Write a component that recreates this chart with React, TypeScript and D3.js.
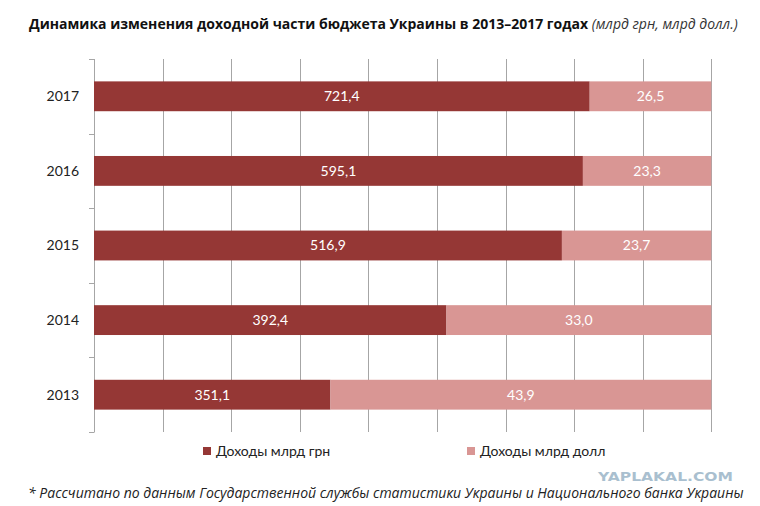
import { useEffect, useRef } from "react";
import * as d3 from "d3";

// Years, bottom to top as in the chart
const years = ["2013", "2014", "2015", "2016", "2017"];
// Revenue, bn UAH (dark segment labels)
const uahValues = [351.1, 392.4, 516.9, 595.1, 721.4];
// Revenue, bn USD (light segment labels)
const usdValues = [43.9, 33.0, 23.7, 23.3, 26.5];
// Share of the bar taken by the dark segment
const uahShare = [0.383, 0.571, 0.758, 0.792, 0.803];
const seriesNames = ["Доходы млрд грн", "Доходы млрд долл"];
const gridSteps = 9;

const W = 760;
const H = 506;
const M = { left: 94, right: 48.7, top: 59, bottom: 74 };
const COLORS = ["#953735", "#d99694"];
const chartFont = "Lato, 'Open Sans', sans-serif";

const fmt = (v: number) => v.toFixed(1).replace(".", ",");

export default function App() {
  const svgRef = useRef<SVGSVGElement>(null);

  useEffect(() => {
    if (!svgRef.current) return;
    const svg = d3.select(svgRef.current);
    svg.selectAll("*").remove();

    const x = d3.scaleLinear().domain([0, 1]).range([M.left, W - M.right]);
    const y = d3
      .scaleBand<string>()
      .domain([...years].reverse())
      .range([M.top, H - M.bottom])
      .paddingInner(0.6)
      .paddingOuter(0.3);

    // Title
    const title = svg
      .append("text")
      .attr("x", 29)
      .attr("y", 29)
      .attr("font-family", "'Open Sans', sans-serif")
      .attr("font-size", 14)
      .attr("fill", "#111");
    title.append("tspan").attr("font-weight", "bold").text("Динамика изменения доходной части бюджета Украины в 2013–2017 годах");
    title
      .append("tspan")
      .attr("font-style", "italic")
      .attr("fill", "#333")
      .text(" (млрд грн, млрд долл.)");

    // Vertical gridlines
    const ticks = d3.range(gridSteps + 1).map((i) => i / gridSteps);
    svg
      .append("g")
      .selectAll("line")
      .data(ticks.slice(1))
      .join("line")
      .attr("x1", (d) => Math.round(x(d)) + 0.5)
      .attr("x2", (d) => Math.round(x(d)) + 0.5)
      .attr("y1", M.top)
      .attr("y2", H - M.bottom)
      .attr("stroke", "#a6a6a6")
      .attr("stroke-width", 1);

    // Category axis with ticks between bands
    const yAxis = svg.append("g");
    yAxis
      .append("line")
      .attr("x1", M.left + 0.5)
      .attr("x2", M.left + 0.5)
      .attr("y1", M.top)
      .attr("y2", H - M.bottom)
      .attr("stroke", "#a6a6a6");
    const bounds = d3.range(years.length + 1).map((i) => M.top + i * ((H - M.bottom - M.top) / years.length));
    yAxis
      .selectAll("line.tick")
      .data(bounds)
      .join("line")
      .attr("class", "tick")
      .attr("x1", M.left - 5)
      .attr("x2", M.left + 0.5)
      .attr("y1", (d) => Math.round(d) + 0.5)
      .attr("y2", (d) => Math.round(d) + 0.5)
      .attr("stroke", "#a6a6a6");
    yAxis
      .selectAll("text")
      .data(years)
      .join("text")
      .attr("x", 79)
      .attr("y", (d) => y(d)! + y.bandwidth() / 2)
      .attr("dy", "0.35em")
      .attr("text-anchor", "end")
      .attr("font-family", chartFont)
      .attr("font-size", 14)
      .attr("fill", "#222")
      .text((d) => d);

    // Stacked bars
    const rows = years.map((yr, i) => ({ yr, share: uahShare[i], uah: uahValues[i], usd: usdValues[i] }));
    const bars = svg.append("g");
    rows.forEach((r) => {
      const y0 = y(r.yr)!;
      const segs = [
        { from: 0, to: r.share, label: fmt(r.uah), color: COLORS[0] },
        { from: r.share, to: 1, label: fmt(r.usd), color: COLORS[1] },
      ];
      segs.forEach((s) => {
        bars
          .append("rect")
          .attr("x", x(s.from))
          .attr("y", y0)
          .attr("width", x(s.to) - x(s.from))
          .attr("height", y.bandwidth())
          .attr("fill", s.color);
        bars
          .append("text")
          .attr("x", (x(s.from) + x(s.to)) / 2)
          .attr("y", y0 + y.bandwidth() / 2)
          .attr("dy", "0.35em")
          .attr("text-anchor", "middle")
          .attr("font-family", chartFont)
          .attr("font-size", 14)
          .attr("fill", "#fff")
          .text(s.label);
      });
    });

    // Legend
    const legendX = [203, 467];
    const legend = svg.append("g");
    seriesNames.forEach((name, i) => {
      legend
        .append("rect")
        .attr("x", legendX[i])
        .attr("y", 447)
        .attr("width", 8)
        .attr("height", 8)
        .attr("fill", COLORS[i]);
      legend
        .append("text")
        .attr("x", legendX[i] + 13)
        .attr("y", 456)
        .attr("font-family", chartFont)
        .attr("font-size", 14)
        .attr("fill", "#222")
        .text(name);
    });

    // Watermark
    svg
      .append("text")
      .attr("x", 598)
      .attr("y", 481)
      .attr("textLength", 135)
      .attr("lengthAdjust", "spacingAndGlyphs")
      .attr("font-family", "'DejaVu Sans', sans-serif")
      .attr("font-weight", "bold")
      .attr("font-size", 12)
      .attr("fill", "#a9bfcf")
      .text("YAPLAKAL.COM");

    // Footnote
    svg
      .append("text")
      .attr("x", 28)
      .attr("y", 498)
      .attr("font-family", "'Open Sans', sans-serif")
      .attr("font-style", "italic")
      .attr("font-size", 14)
      .attr("fill", "#222")
      .text("* Рассчитано по данным Государственной службы статистики Украины и Национального банка Украины");
  }, []);

  return (
    <svg
      ref={svgRef}
      width={W}
      height={H}
      style={{ position: "absolute", left: 0, top: 0, background: "#fff" }}
    />
  );
}
